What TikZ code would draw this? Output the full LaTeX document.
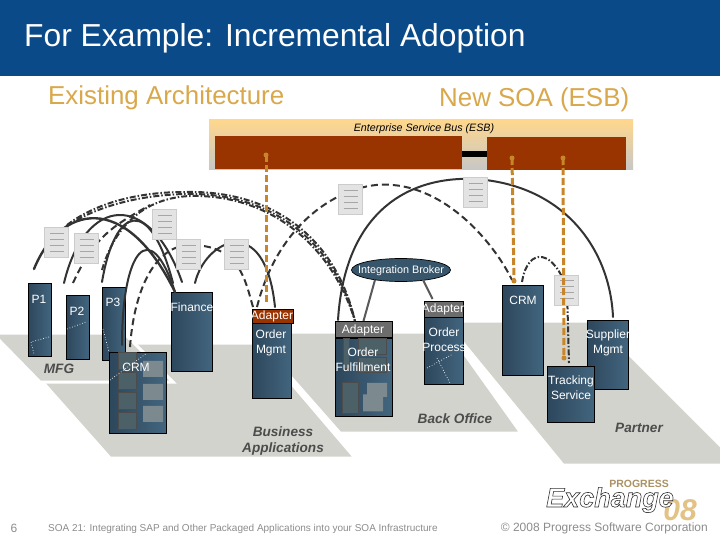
\documentclass[tikz,border=0pt]{standalone}
\usepackage{fontspec}
\setmainfont{Liberation Sans}
\usetikzlibrary{calc,shapes.geometric}
\definecolor{arcc}{HTML}{333333}
\definecolor{floorc}{HTML}{D3D3CD}
\definecolor{boxa}{HTML}{2D475C}
\definecolor{boxb}{HTML}{42657E}
\definecolor{orangec}{HTML}{C8862A}
\definecolor{busred}{HTML}{993300}
\definecolor{titlec}{HTML}{0B4A88}
\definecolor{headc}{HTML}{D9A84B}
\definecolor{tanc}{HTML}{E3C285}
\definecolor{innerc}{HTML}{4C6068}
\definecolor{cylc}{HTML}{7C8A90}
\newcommand{\fs}[1]{\fontsize{#1}{#1}\selectfont}
\tikzset{
  x=1pt,y=-1pt,
  floorp/.style={fill=floorc,draw=white,line width=3pt,line join=miter},
  appbox/.style={draw=black,line width=1pt,rectangle,left color=boxa,right color=boxb,inner sep=0,outer sep=0},
  adapterred/.style={draw=black,line width=1pt,rectangle,fill=busred,inner sep=0,outer sep=0},
  adaptergrey/.style={draw=black,line width=1pt,rectangle,fill=gray!85!black,inner sep=0,outer sep=0},
  lbl/.style={text=white,font=\fs{12},align=center,inner sep=0},
  floorlbl/.style={text=black!70,font=\fs{13.6}\bfseries\itshape,align=center,inner sep=0},
  docbox/.style={rectangle,fill=black!11,draw=black!20,line width=1pt,minimum width=24pt,minimum height=30pt,inner sep=0},
  docline/.style={draw=black!35,line width=0.6pt},
  solidarc/.style={draw=arcc,line width=2pt,line cap=round},
  dasharc/.style={draw=arcc,line width=2pt,dash pattern=on 7pt off 4pt},
  dotarc/.style={draw=arcc,line width=2pt,dash pattern=on 6pt off 2pt on 1.5pt off 2pt},
  orangeline/.style={draw=orangec,line width=3pt,dash pattern=on 7pt off 3pt},
  pin/.style={circle,fill=orangec,minimum size=5pt,inner sep=0},
  dotw/.style={draw=white,line width=0.7pt,dotted},
  inner/.style={draw=black!70,line width=0.7pt,fill=innerc},
  cyl/.style={cylinder,shape border rotate=90,aspect=0.4,inner sep=0,draw=none,fill=cylc}
}
\newcommand{\bx}[6]{\node[#1,minimum width={(#5-#3)*1pt},minimum height={(#6-#4)*1pt}] (#2) at ({(#3+#5)/2},{(#4+#6)/2}) {};}
\newcommand{\dc}[3]{\node[docbox] (#1) at (#2,#3) {};
  \foreach \d in {-9.5,-3.5,2.5,8.5} \draw[docline] ($(#1.center)+(-7,\d)$) -- ++(14,0);}
\begin{document}
\begin{tikzpicture}
\useasboundingbox (0,0) rectangle (720,540);
\fill[white] (0,0) rectangle (720,540);
% floors
\draw[floorp] (445,321) -- (596,321) -- (740,465) -- (563,465) -- cycle;
\draw[floorp] (251,332) -- (449,332) -- (521,433) -- (340,433) -- cycle;
\draw[floorp] (8,343) -- (257,343) -- (355,458) -- (110,458) -- cycle;
\draw[floorp] (-5,333) -- (124,333) -- (173,382) -- (40,382) -- (-5,336) -- cycle;
% title
\fill[titlec] (0,0) rectangle (720,76);
\node[text=white,font=\fs{31.8},anchor=west,inner sep=0] (title) at (24,38) {For Example: Incremental Adoption};
\node[text=headc,font=\fs{25.9},anchor=west,inner sep=0] (h1) at (48,98) {Existing Architecture};
\node[text=headc,font=\fs{25.9},anchor=west,inner sep=0] (h2) at (439,100) {New SOA (ESB)};
% bus
\shade[top color=yellow!30!orange!45!white,bottom color=black!22] (209,120) rectangle (633,170);
\fill[busred] (215,136) rectangle (462,169);
\fill[busred] (487,137) rectangle (626,170);
\fill[black] (462,151) rectangle (487,157);
\node[font=\fs{10.7}\itshape,inner sep=0] (esb) at (424,129) {Enterprise Service Bus (ESB)};
% boxes
\bx{appbox}{p1}{28}{283}{51}{356}
\bx{appbox}{p2}{66}{295}{89}{359}
\bx{appbox}{p3}{102}{287}{125}{360}
\bx{appbox}{fin}{171}{292}{212}{371}
\bx{appbox}{crmb}{109}{352}{166}{433}
\bx{appbox}{omg}{252}{323}{291}{398}
\bx{adapterred}{ada}{252}{309}{293}{323}
\bx{appbox}{ofu}{335}{338}{392}{416}
\bx{adaptergrey}{adb}{335}{321}{392}{337}
\bx{appbox}{opr}{424}{317}{463}{384}
\bx{adaptergrey}{adc}{424}{301}{463}{317}
\bx{appbox}{crmr}{502}{285}{543}{375}
\bx{appbox}{sup}{587}{320}{628}{389}
\bx{appbox}{trk}{547}{366}{594}{422}
% inner details
\foreach \yy in {352,372,392,412} \draw[inner] (118,\yy) rectangle (136,\yy+17);
\foreach \yy/\nm in {369/a,392/b,414/c} \node[cyl,minimum width=20pt,minimum height=16pt] (cy\nm) at (153,\yy) {};
\draw[inner] (343,338) rectangle (349,368);
\draw[inner] (358,338) rectangle (386,354);
\draw[inner] (358,357) rectangle (386,372);
\draw[inner] (342,382) rectangle (358,413);
\node[cyl,minimum width=20pt,minimum height=14pt] (cyd) at (377,390) {};
\node[cyl,minimum width=20pt,minimum height=17pt] (cye) at (373,403) {};
% white dotted marks
\draw[dotw] (49,337) -- (31,342) -- (34,354);
\draw[dotw] (67,329) -- (86,322);
\draw[dotw] (103,329) -- (109,352);
\draw[dotw] (110,380) -- (147,353);
\draw[dotw] (427,368) -- (453,354);
\draw[dotw] (437,358) -- (450,383);
% named arc ends
\coordinate (e1) at (34,269);
\coordinate (e2) at (64,283);
\coordinate (e3) at (102,282);
\coordinate (e4) at (122,345);
\coordinate (e5) at (130,347);
\coordinate (e6) at (73,283);
\coordinate (e7) at (195,283);
\coordinate (f1) at (175,292);
\coordinate (f2) at (182,282);
\coordinate (f3) at (173,283);
\coordinate (g1) at (253,307);
\coordinate (g2) at (275,307);
\coordinate (g3) at (257,307);
\coordinate (h3) at (355,321);
\coordinate (h4) at (338,320);
\coordinate (k1) at (613,317);
\coordinate (k2) at (512,280);
\coordinate (k3) at (522,282);
\coordinate (k4) at (569,363);
% arcs
\draw[solidarc,line width=2.4pt] (e1) .. controls (60,205) and (125,190) .. (f1);
\draw[solidarc] (e2) .. controls (85,195) and (150,190) .. (f2);
\draw[solidarc] (e3) .. controls (115,205) and (150,195) .. (f3);
\draw[solidarc] (e4) .. controls (122,250) and (150,215) .. (f1);
\draw[dasharc] (e6) .. controls (95,235) and (115,225) .. (150,205);
\draw[dasharc] (e5) .. controls (135,280) and (160,245) .. (190,245) .. controls (240,245) and (245,280) .. (g1);
\draw[solidarc] (e7) .. controls (205,240) and (265,210) .. (g2);
\draw[dotarc] (67,225) .. controls (100,200) and (145,192) .. (185,192) .. controls (270,190) and (335,235) .. (h3);
\draw[dotarc] (67,226) .. controls (100,204) and (145,195) .. (185,194) .. controls (268,192) and (333,238) .. (h3);
\draw[dotarc] (102,270) .. controls (115,225) and (145,198) .. (190,196) .. controls (265,194) and (330,240) .. (h3);
\draw[dasharc] (g3) .. controls (280,215) and (350,180) .. (393,185) .. controls (450,190) and (495,245) .. (k2);
\draw[solidarc] (h4) .. controls (345,210) and (410,176) .. (475,179) .. controls (565,185) and (610,250) .. (k1);
\draw[dotarc] (k3) .. controls (528,245) and (555,250) .. (567,290) -- (k4);
% docs
\dc{d1}{56.5}{242.5}
\dc{d2}{86.5}{248.5}
\dc{d3}{164.5}{224.5}
\dc{d4}{188.5}{254.5}
\dc{d5}{236.5}{254.5}
\dc{d6}{350.5}{200}
\dc{d7}{475.5}{192.5}
\dc{d8}{566.5}{290}
% broker
\node[ellipse,draw=black,line width=0.7pt,fill=boxb!85!black,minimum width=99pt,minimum height=23pt,inner sep=0] (ib) at (401,270) {};
\draw[draw=black!65,line width=2pt] ($(ib.south)+(-26,-2)$) -- (adb.north);
\draw[draw=black!65,line width=2pt] ($(ib.south)+(22,-2)$) -- ($(adc.north)+(-11,-2)$);
% orange
\coordinate (o1t) at (266,155);
\coordinate (o2t) at (512,158);
\coordinate (o3t) at (563,158);
\coordinate (o1b) at (266,305);
\coordinate (o2b) at (514,281);
\coordinate (o3b) at (564,358);
\draw[orangeline] (o1t) -- (o1b);
\draw[orangeline] (o2t) -- (o2b);
\draw[orangeline] (o3t) -- (o3b);
\foreach \p in {o1t,o2t,o3t,o2b,o3b} \node[pin] at (\p) {};
% labels
\node[lbl] (lp1) at (39,299) {P1};
\node[lbl] (lp2) at (77,311) {P2};
\node[lbl] (lp3) at (113,302) {P3};
\node[lbl] (lfin) at (192,307) {Finance};
\node[lbl] (lcrm) at (136,367) {CRM};
\node[lbl] (la) at (272,316) {Adapter};
\node[lbl] (lom) at (271,343) {Order\\[3pt]Mgmt};
\node[lbl] (lb) at (363,330) {Adapter};
\node[lbl] (lof) at (363,360) {Order\\[3pt]Fulfillment};
\node[lbl] (lc) at (443,309) {Adapter};
\node[lbl] (lop) at (444,340) {Order\\[3pt]Process};
\node[lbl] (lcr) at (523,300) {CRM};
\node[lbl] (lsm) at (608,343) {Supplier\\[3pt]Mgmt};
\node[lbl] (ltr) at (571,388) {Tracking\\[3pt]Service};
\node[text=white,font=\fs{10.8},inner sep=0] (lib) at (401,271) {Integration Broker};
\node[floorlbl] (mfg) at (59,369) {MFG};
\node[floorlbl] (ba) at (283,441) {Business\\[3pt]Applications};
\node[floorlbl] (bo) at (455,419) {Back Office};
\node[floorlbl] (pa) at (639,428) {Partner};
% logo
\node[text=tanc,font=\fs{30}\bfseries\itshape,inner sep=0] (l08) at (680,510) {08};
\node[text=white,font=\fs{27}\bfseries\itshape,inner sep=0] (lex) at (610,500) {\special{pdf:code 2 Tr 0.6 w 0.2 0.2 0.2 RG}Exchange\special{pdf:code 0 Tr}};
\node[text=tanc!75!black,font=\fs{10.5}\bfseries,inner sep=0] (lpr) at (639,484) {PROGRESS};
% footer
\node[text=black!45,font=\fs{12},inner sep=0] (pg) at (14,528) {6};
\node[text=black!45,font=\fs{10},anchor=west,inner sep=0] (ft) at (48,529) {SOA 21: Integrating SAP and Other Packaged Applications into your SOA Infrastructure};
\node[text=black!45,font=\fs{12},anchor=east,inner sep=0] (cp) at (708,528) {© 2008 Progress Software Corporation};
\end{tikzpicture}
\end{document}
